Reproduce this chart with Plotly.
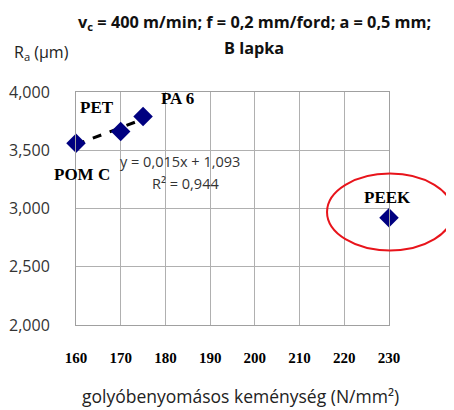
import numpy as np
import plotly.graph_objects as go

materials = ["POM C", "PET", "PA 6", "PEEK"]
hardness = [160, 170, 175, 230]
ra = [3.56, 3.66, 3.79, 2.92]
x_ticks = [160, 170, 180, 190, 200, 210, 220, 230]
y_ticks = [2.0, 2.5, 3.0, 3.5, 4.0]
x_range = [160, 230]
y_range = [2.0, 4.0]

# linear trend over the first three materials
fit_x = hardness[:3]
fit_y = ra[:3]
k, b = np.polyfit(fit_x, fit_y, 1)
trend_x = [min(fit_x), max(fit_x)]
trend_y = [k * v + b for v in trend_x]

fig = go.Figure()
fig.add_trace(go.Scatter(x=trend_x, y=trend_y, mode="lines",
                         line=dict(color="black", width=3, dash="dash"),
                         hoverinfo="skip", showlegend=False, cliponaxis=False))
fig.add_trace(go.Scatter(x=hardness, y=ra, mode="markers",
                         marker=dict(symbol="diamond", size=15, color="#000080"),
                         showlegend=False, cliponaxis=False))

serif_bold = dict(family="Liberation Serif", size=17, color="black")
label_pos = {"POM C": (6, -31), "PET": (-24, 24), "PA 6": (34, 18), "PEEK": (-2, 20)}
for m, xv, yv in zip(materials, hardness, ra):
    dx, dy = label_pos[m]
    fig.add_annotation(x=xv, y=yv, text="<b>%s</b>" % m, showarrow=False,
                       xshift=dx, yshift=dy, font=serif_bold,
                       xanchor="center", yanchor="middle")

sans = "Open Sans"
fig.add_annotation(x=0.134, y=0.70, xref="paper", yref="paper", showarrow=False,
                   text="y = 0,015x + 1,093", font=dict(family=sans, size=14.5, color="#333"),
                   xanchor="left", yanchor="middle")
fig.add_annotation(x=0.236, y=0.609, xref="paper", yref="paper", showarrow=False,
                   text="R² = 0,944", font=dict(family=sans, size=14.5, color="#333"),
                   xanchor="left", yanchor="middle")

# red ellipse around PEEK (positioned relative to the PEEK point in paper units)
px = (hardness[3] - x_range[0]) / (x_range[1] - x_range[0])
py = (ra[3] - y_range[0]) / (y_range[1] - y_range[0])
fig.add_shape(type="circle", xref="paper", yref="paper",
              x0=px - 0.198, x1=px + 0.204, y0=py - 0.14, y1=py + 0.19,
              line=dict(color="#e8141b", width=2))

fig.add_annotation(x=-0.205, y=1.17, xref="paper", yref="paper", showarrow=False,
                   text="R<sub>a</sub> (µm)", xanchor="left", yanchor="middle",
                   font=dict(family=sans, size=16, color="#222"))

fig.add_annotation(x=0.57, y=1.30, xref="paper", yref="paper", showarrow=False,
                   text="<b>v<sub>c</sub> = 400 m/min; f = 0,2 mm/ford; a = 0,5 mm;</b>",
                   font=dict(family=sans, size=16.3, color="#111"),
                   xanchor="center", yanchor="middle")
fig.add_annotation(x=0.57, y=1.19, xref="paper", yref="paper", showarrow=False,
                   text="<b>B lapka</b>",
                   font=dict(family=sans, size=16.3, color="#111"),
                   xanchor="center", yanchor="middle")

fig.add_annotation(x=0.527, y=-0.305, xref="paper", yref="paper", showarrow=False,
                   text="golyóbenyomásos keménység (N/mm²)", xanchor="center", yanchor="middle",
                   font=dict(family=sans, size=17.5, color="#222"))

# page body has an 8px offset; plot area kept at 313x233
fig.update_layout(
    width=446, height=402,
    margin=dict(l=68, r=65, t=84, b=85),
    paper_bgcolor="white", plot_bgcolor="white",
    separators=",.",
    xaxis=dict(range=x_range, tickvals=x_ticks,
               ticktext=["<b>%d</b>" % v for v in x_ticks],
               showgrid=True, gridcolor="#b0b0b0",
               gridwidth=1, showline=True, linecolor="#a0a0a0", mirror=True, zeroline=False,
               ticklabelstandoff=19, automargin=False,
               tickfont=dict(family="Liberation Serif", size=15, color="black")),
    yaxis=dict(range=y_range, tickvals=y_ticks, tickformat=".3f", showgrid=True,
               gridcolor="#b0b0b0", gridwidth=1, showline=True, linecolor="#a0a0a0",
               mirror=True, zeroline=False, ticklabelstandoff=22, automargin=False,
               tickfont=dict(family=sans, size=16, color="#333")),
)
fig.write_html("out.html")
